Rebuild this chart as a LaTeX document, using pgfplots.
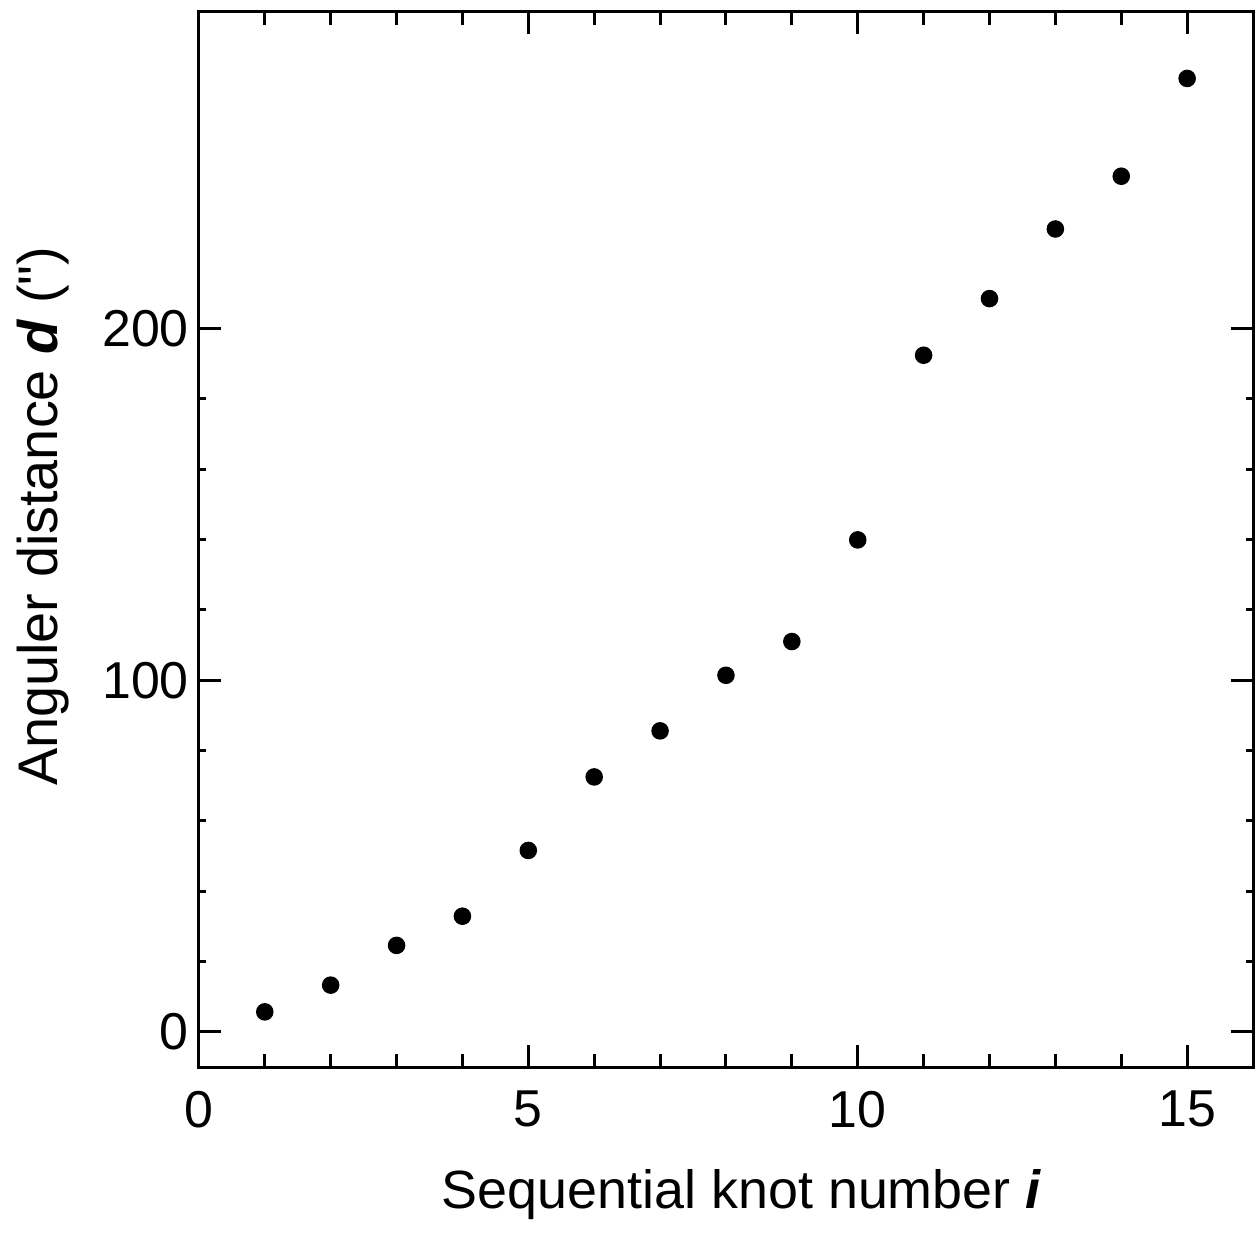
\documentclass[border=0pt]{standalone}
\usepackage{fontspec}
\setmainfont{Liberation Sans}[Ligatures=TeXOff]
\usepackage{pgfplots}
\pgfplotsset{compat=1.18}
\begin{document}
\fontsize{13}{15}\selectfont
\begin{tikzpicture}
\begin{axis}[
  scale only axis,
  width=264.25pt, height=264.5pt,
  xmin=0, xmax=16, ymin=-10, ymax=290,
  xtick={0,5,10,15}, minor x tick num=4,
  ytick={0,100,200}, minor y tick num=4,
  tick align=inside,
  major tick length=5.5pt,
  minor tick length=3.3pt,
  minor y tick style={/pgfplots/minor tick length=1.8pt},
  axis line style={line width=0.75pt},
  every tick/.style={line width=0.75pt, black},
  /pgf/number format/assume math mode=true,
  ticklabel style={font=\fontsize{13}{15}\selectfont},
  xticklabel style={yshift=-1.5pt},
  yticklabel style={xshift=2pt},
  xlabel={Sequential knot number \textbf{\textit{i}}},
  ylabel={Anguler distance \textbf{\textit{d}} (")},
  label style={font=\fontsize{14}{16}\selectfont},
  xlabel style={font=\fontsize{13.5}{16}\selectfont, at={(axis description cs:0.515,-0.121)}, anchor=center},
  ylabel style={at={(axis description cs:-0.1476,0.522)}, anchor=center, rotate=0},
]
\addplot[only marks, mark=*, mark size=2pt, black] coordinates {
(1,5.7) (2,13.3) (3,24.6) (4,32.9) (5,51.6) (6,72.5) (7,85.6) (8,101.4)
(9,111.0) (10,139.9) (11,192.4) (12,208.5) (13,228.3) (14,243.3) (15,271.1)
};
\end{axis}
\path ([yshift=3pt]current axis.north) ([yshift=-40.25pt]current axis.south)
      ([xshift=-49pt]current axis.west) ([xshift=0.75pt]current axis.east);
\end{tikzpicture}
\end{document}
